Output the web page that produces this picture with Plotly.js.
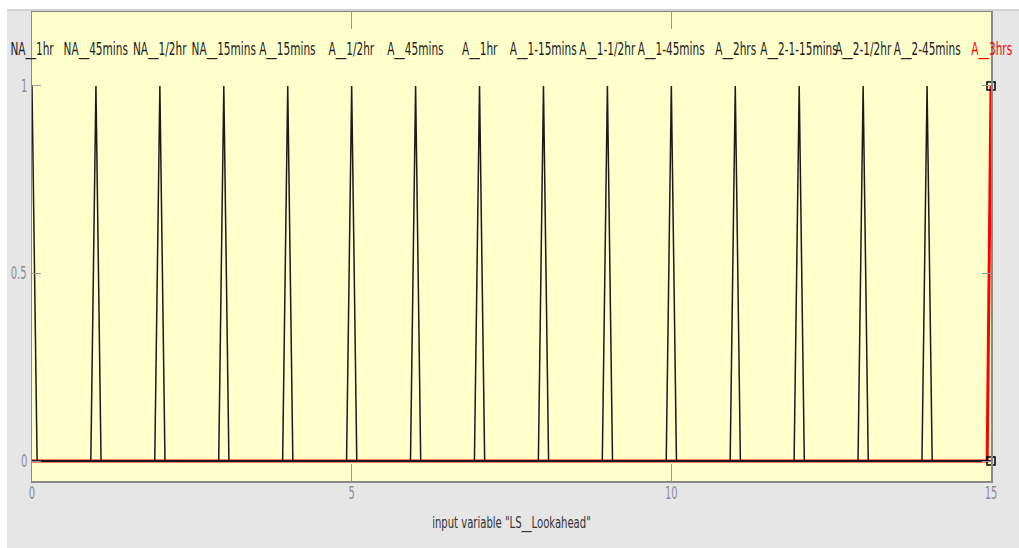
<!DOCTYPE html>
<html>
<head>
<meta charset="utf-8">
<script src="https://cdn.plot.ly/plotly-3.0.1.min.js"></script>
<style>
  html, body { margin: 0; padding: 0; background: #e6e6e6; overflow: hidden; }
  #plot { width: 1019px; height: 548px; }
</style>
</head>
<body>
<div id="plot"></div>
<script>
// Membership functions of the input variable "LS__Lookahead" (triangular, [left, peak, right])
const mfNames = ["NA__1hr", "NA__45mins", "NA__1/2hr", "NA__15mins", "A__15mins", "A__1/2hr",
  "A__45mins", "A__1hr", "A__1-15mins", "A__1-1/2hr", "A__1-45mins", "A__2hrs",
  "A__2-1-15mins", "A__2-1/2hr", "A__2-45mins", "A__3hrs"];
const mfLeft  = [-0.08, 0.92, 1.92, 2.92, 3.92, 4.92, 5.92, 6.92, 7.92, 8.92, 9.92, 10.92, 11.92, 12.92, 13.92, 14.94];
const mfPeak  = [0, 1, 2, 3, 4, 5, 6, 7, 8, 9, 10, 11, 12, 13, 14, 15];
const mfRight = [0.08, 1.08, 2.08, 3.08, 4.08, 5.08, 6.08, 7.08, 8.08, 9.08, 10.08, 11.08, 12.08, 13.08, 14.08, 15.06];
const inputRange = [0, 15];
const selectedMf = 15;
const xTicks = [0, 5, 10, 15];
const yTicks = [0, 0.5, 1];

const FONT = "'DejaVu Sans Condensed', 'DejaVu Sans', sans-serif";

// triangular membership value
function trimf(x, a, b, c) {
  if (x <= a || x >= c) return (x === b) ? 1 : 0;
  if (x <= b) return (b === a) ? 1 : (x - a) / (b - a);
  return (c === b) ? 1 : (c - x) / (c - b);
}

// sample each MF over the input range at its breakpoints
function mfCurve(i) {
  const a = mfLeft[i], b = mfPeak[i], c = mfRight[i];
  const xs = [inputRange[0], a, b, c, inputRange[1]]
    .filter(v => v >= inputRange[0] && v <= inputRange[1]);
  const uniq = [...new Set(xs)].sort((p, q) => p - q);
  return { x: uniq, y: uniq.map(v => trimf(v, a, b, c)) };
}

const traces = [];
// selected MF in red, drawn first
{
  const cur = mfCurve(selectedMf);
  traces.push({ x: cur.x, y: cur.y, mode: "lines", type: "scatter",
    line: { color: "#ff0000", width: 3 }, hoverinfo: "skip", cliponaxis: false });
}
mfNames.forEach((name, i) => {
  if (i === selectedMf) return;
  const cur = mfCurve(i);
  traces.push({ x: cur.x, y: cur.y, mode: "lines", type: "scatter",
    line: { color: "#1a1a1a", width: 1.5 }, hoverinfo: "skip" });
});
// selection handles on the highlighted MF
traces.push({
  x: [mfPeak[selectedMf], mfPeak[selectedMf]], y: [1, 0], mode: "markers", type: "scatter",
  marker: { symbol: "square-open", size: 8, color: "#000000", line: { width: 1.5 } },
  cliponaxis: false, hoverinfo: "skip"
});

const annotations = mfNames.map((name, i) => ({
  x: mfPeak[i], y: 1.1, xref: "x", yref: "y", text: name, showarrow: false,
  xanchor: "center", yanchor: "middle",
  font: { family: FONT, size: 13, color: i === selectedMf ? "#ff0000" : "#222222" }
}));

const layout = {
  width: 1019, height: 548,
  margin: { l: 32, r: 28, t: 12, b: 67 },
  paper_bgcolor: "#e6e6e6",
  plot_bgcolor: "#ffffcc",
  showlegend: false,
  shapes: [
    // white strips along the top and left edges of the figure window
    { type: "rect", xref: "paper", yref: "paper", layer: "below",
      x0: -32 / 959, x1: 1 + 28 / 959, y0: 1 + 2 / 469, y1: 1 + 12 / 469,
      fillcolor: "#ffffff", line: { width: 0 } },
    { type: "rect", xref: "paper", yref: "paper", layer: "below",
      x0: -32 / 959, x1: -25 / 959, y0: -67 / 469, y1: 1 + 12 / 469,
      fillcolor: "#ffffff", line: { width: 0 } },
    { type: "line", xref: "paper", yref: "paper", layer: "below",
      x0: -25 / 959, x1: 1 + 28 / 959, y0: 1 + 2 / 469, y1: 1 + 2 / 469,
      line: { color: "#c8c8c8", width: 1.5 } }
  ],
  xaxis: {
    range: inputRange, tickvals: xTicks, ticktext: xTicks.map(String),
    ticks: "inside", ticklen: 17, tickcolor: "#999999", tickwidth: 1,
    showline: true, linecolor: "#8a8a8a", linewidth: 1.5, mirror: "allticks",
    showgrid: false, zeroline: false,
    tickfont: { family: FONT, size: 13, color: "#8a8c99" },
    title: { text: 'input variable "LS__Lookahead"', standoff: 18,
      font: { family: FONT, size: 13, color: "#333333" } }
  },
  yaxis: {
    range: [-0.053, 1.197], tickvals: yTicks, ticktext: ["0", "0.5", "1"],
    ticks: "inside", ticklen: 9, tickcolor: "#999999", tickwidth: 1,
    showline: true, linecolor: "#8a8a8a", linewidth: 1.5, mirror: "allticks",
    showgrid: false, zeroline: false,
    tickfont: { family: FONT, size: 13, color: "#8a8c99" }
  },
  annotations: annotations
};

// narrow, tall lettering in the style of the fuzzy toolbox window
function squeezeText(root, selector, sx, sy) {
  root.querySelectorAll(selector).forEach(el => {
    const bb = el.getBBox();
    const cx = bb.x + bb.width / 2, cy = bb.y + bb.height / 2;
    const base = el.getAttribute("transform") || "";
    el.setAttribute("transform",
      `${base} translate(${cx},${cy}) scale(${sx},${sy}) translate(${-cx},${-cy})`);
  });
}

Plotly.newPlot("plot", traces, layout, { staticPlot: true, displayModeBar: false }).then(gd => {
  squeezeText(gd, ".annotation-text", 0.9, 1.35);
  squeezeText(gd, ".xtick text, .ytick text", 0.85, 1.3);
  squeezeText(gd, ".g-xtitle text", 0.86, 1.15);
});
</script>
</body>
</html>
